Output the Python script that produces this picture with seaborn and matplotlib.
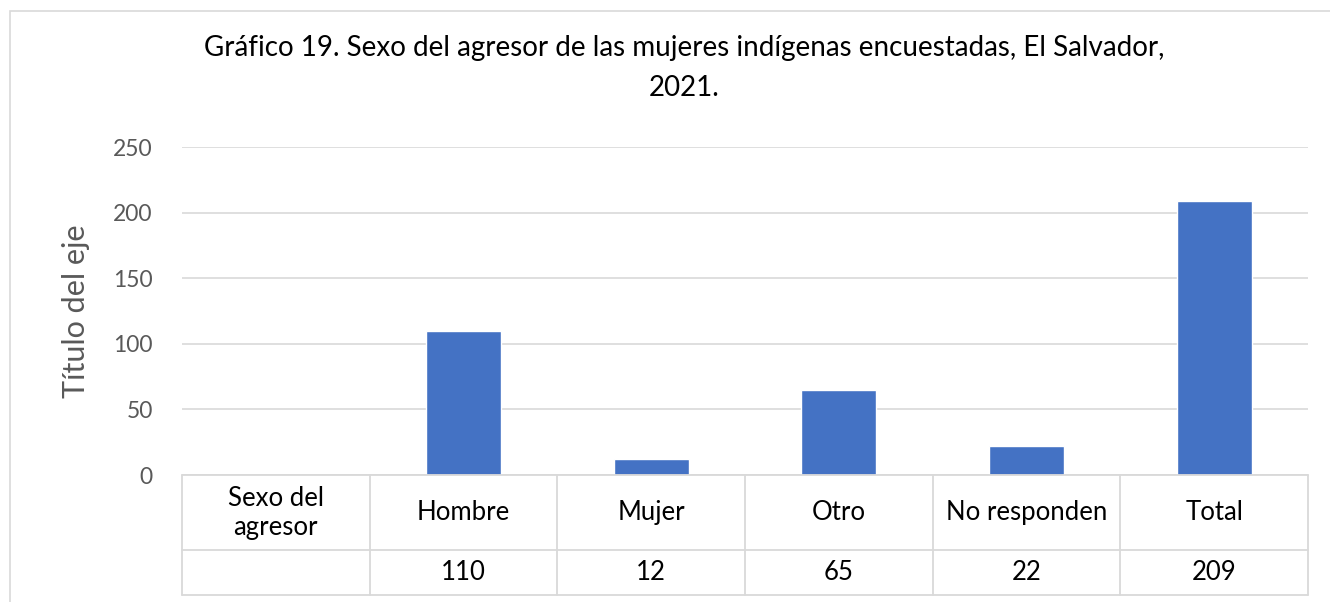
import matplotlib.pyplot as plt
from matplotlib.patches import Rectangle
import matplotlib.transforms as mtransforms
import numpy as np
import pandas as pd
import seaborn as sns

# Data
categories = ["Sexo del\nagresor", "Hombre", "Mujer", "Otro", "No responden", "Total"]
values = [np.nan, 110, 12, 65, 22, 209]
value_labels = ["", "110", "12", "65", "22", "209"]
yticks = [0, 50, 100, 150, 200, 250]

BAR = "#4472C4"
GRID = "#D9D9D9"
GREY = "#595959"

sns.set_theme(style="white")
plt.rcParams["font.family"] = ["Lato", "DejaVu Sans"]

df = pd.DataFrame({"cat": categories, "val": values})

fig = plt.figure(figsize=(13.3, 6.02), dpi=100)
ax = fig.add_axes([182 / 1330, 1 - 475 / 602, (1308 - 182) / 1330, (475 - 147) / 602])

sns.barplot(data=df, x="cat", y="val", order=categories, color=BAR,
            width=0.4, saturation=1, ax=ax)

ax.set_ylim(0, 250)
ax.set_xlim(-0.5, len(categories) - 0.5)
ax.set_yticks(yticks)
ax.set_yticklabels([str(t) for t in yticks], fontsize=16.5, color=GREY)
ax.tick_params(axis="y", length=0, pad=21)
ax.set_xticks([])
ax.set_xlabel("")
ax.set_ylabel("Título del eje", fontsize=22, color=GREY, labelpad=17)
ax.yaxis.grid(True, color=GRID, linewidth=1.2)
ax.set_axisbelow(True)
for s in ax.spines.values():
    s.set_visible(False)

# Data table below the plot area
trans = mtransforms.blended_transform_factory(ax.transData, ax.transAxes)
row1 = -(550 - 475) / 328
row2 = -(595 - 475) / 328
x_edges = np.arange(len(categories) + 1) - 0.5
for y in (0, row1, row2):
    ax.plot([x_edges[0], x_edges[-1]], [y, y], transform=trans, color=GRID,
            lw=1.3, clip_on=False, zorder=1)
for x in x_edges:
    ax.plot([x, x], [0, row2], transform=trans, color=GRID, lw=1.3,
            clip_on=False, zorder=1)
for i, (c, v) in enumerate(zip(categories, value_labels)):
    ax.text(i, row1 / 2, c, transform=trans, ha="center", va="center",
            fontsize=18.5, color="black", linespacing=1.2)
    ax.text(i, (row1 + row2) / 2, v, transform=trans, ha="center",
            va="center", fontsize=18.5, color="black")

fig.text(684 / 1330, 1 - 68 / 602,
         "Gráfico 19. Sexo del agresor de las mujeres indígenas encuestadas, El Salvador,\n2021.",
         ha="center", va="center", fontsize=20, color="black", linespacing=1.62)

# light outer frame of the chart object
fig.patches.append(Rectangle((10 / 1330, -0.1), 1.2, 1 - 11 / 602 + 0.1,
                             transform=fig.transFigure, fill=False,
                             edgecolor=GRID, lw=1.2))

fig.savefig("out.png", dpi=100)
